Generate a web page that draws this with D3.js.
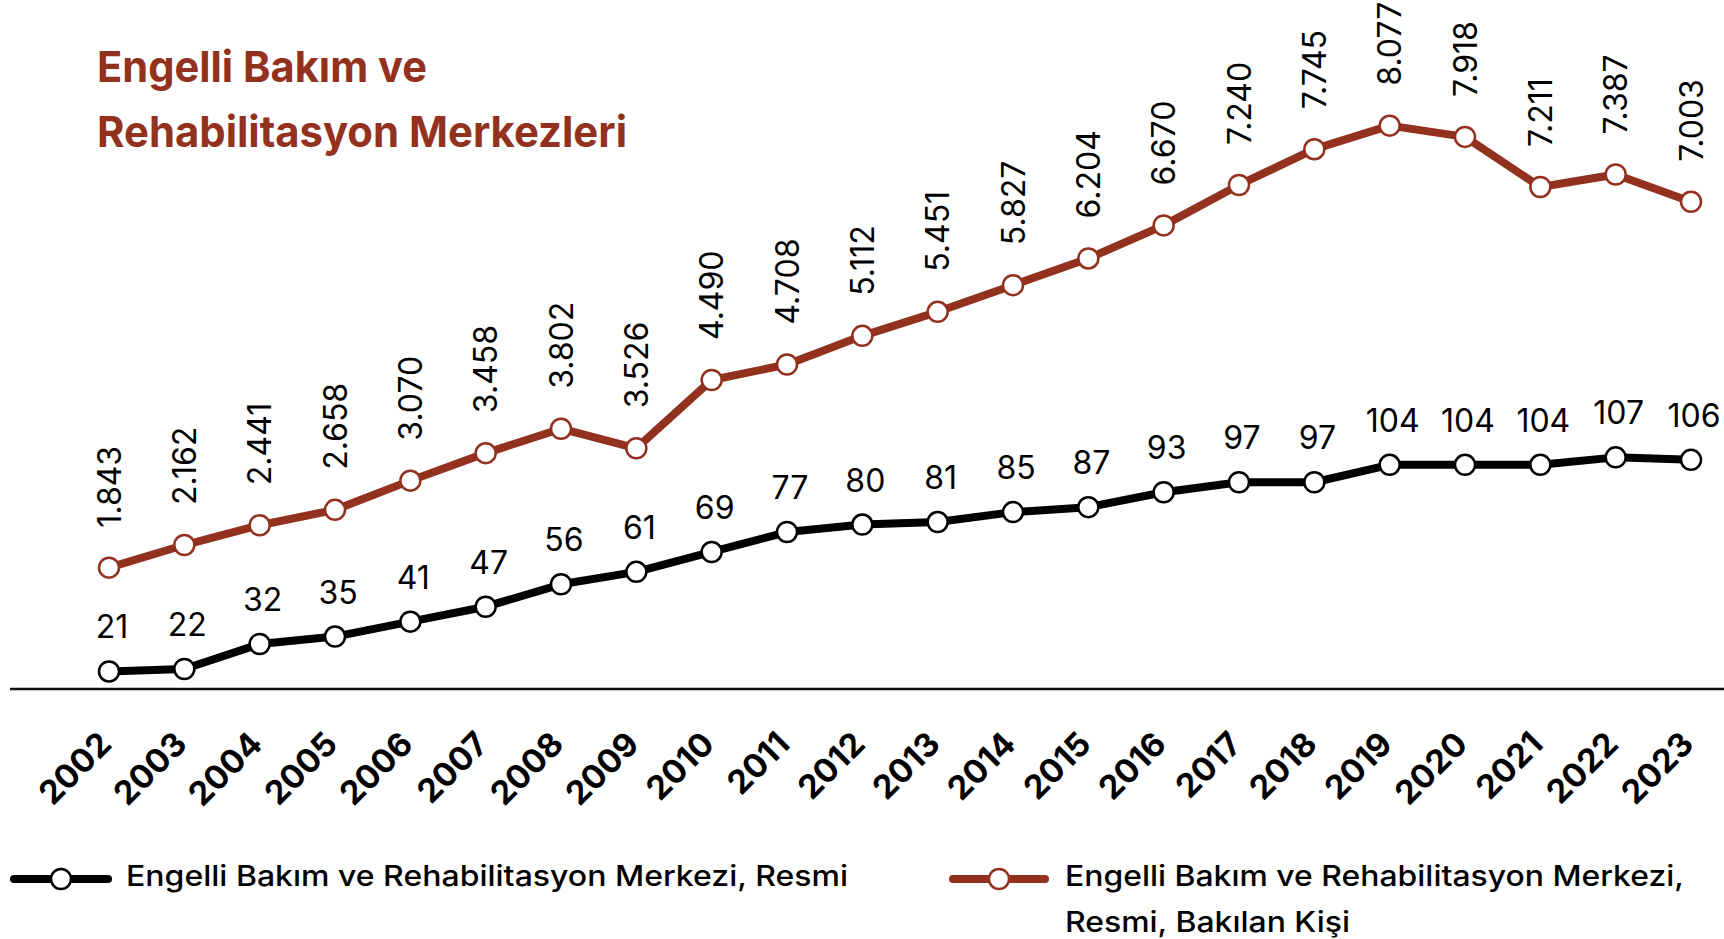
<!DOCTYPE html>
<html>
<head>
<meta charset="utf-8">
<script src="https://cdn.jsdelivr.net/npm/d3@7"></script>
<style>
  html, body { margin: 0; padding: 0; background: #fff; }
  svg { display: block; font-family: Inter, 'Noto Sans', sans-serif; }
</style>
</head>
<body>
<svg id="chart" width="1724" height="939"></svg>
<script>
// data
const years = [2002, 2003, 2004, 2005, 2006, 2007, 2008, 2009, 2010, 2011, 2012,
  2013, 2014, 2015, 2016, 2017, 2018, 2019, 2020, 2021, 2022, 2023];
const centers = [21, 22, 32, 35, 41, 47, 56, 61, 69, 77, 80, 81, 85, 87, 93, 97, 97, 104, 104, 104, 107, 106];
const people = [1843, 2162, 2441, 2658, 3070, 3458, 3802, 3526, 4490, 4708, 5112, 5451,
  5827, 6204, 6670, 7240, 7745, 8077, 7918, 7211, 7387, 7003];
const titleLines = ['Engelli Bakım ve', 'Rehabilitasyon Merkezleri'];
const centersLabel = 'Engelli Bakım ve Rehabilitasyon Merkezi, Resmi';
const peopleLabel = ['Engelli Bakım ve Rehabilitasyon Merkezi,', 'Resmi,  Bakılan Kişi'];

const RED = '#93311f';
const BLACK = '#000';

const svg = d3.select('#chart');
const fmt = (v) => d3.format(',')(v).replace(/,/g, '.');

// scales
const x = d3.scalePoint().domain(years).range([109, 1691]);
const yCenters = d3.scaleLinear().domain([0, 120]).range([723.7, 425]);
const yPeople = d3.scaleLinear().domain([0, 9000]).range([698.3, 60.2]);

// title
svg
  .append('g')
  .selectAll('text')
  .data(titleLines)
  .join('text')
  .attr('x', 97)
  .attr('y', (d, i) => 82 + i * 65)
  .attr('fill', RED)
  .attr('font-size', 43)
  .attr('font-weight', 700)
  .attr('textLength', (d, i) => (i === 0 ? 330 : 530))
  .attr('lengthAdjust', 'spacingAndGlyphs')
  .text((d) => d);

// x axis
svg
  .append('line')
  .attr('x1', 10)
  .attr('x2', 1724)
  .attr('y1', 689)
  .attr('y2', 689)
  .attr('stroke', '#111')
  .attr('stroke-width', 2.5);

const xAxis = svg
  .append('g')
  .attr('transform', 'translate(0,689)')
  .call(d3.axisBottom(x).tickSize(0).tickFormat(d3.format('d')));
xAxis.select('.domain').remove();
xAxis
  .selectAll('text')
  .attr('font-family', 'Inter, sans-serif')
  .attr('font-size', 33)
  .attr('font-weight', 700)
  .attr('fill', '#000')
  .attr('text-anchor', 'end')
  .attr('x', 0)
  .attr('y', 0)
  .attr('dy', 0)
  .attr('transform', 'translate(4,57) rotate(-45)');

// a series = line + circles + labels
function drawSeries({ values, y, color, rotated, offset }) {
  const pts = years.map((yr, i) => ({ yr, v: values[i] }));
  svg
    .append('path')
    .datum(pts)
    .attr('fill', 'none')
    .attr('stroke', color)
    .attr('stroke-width', 8)
    .attr('stroke-linejoin', 'round')
    .attr('d', d3.line().x((d) => x(d.yr)).y((d) => y(d.v)));

  svg
    .append('g')
    .selectAll('circle')
    .data(pts)
    .join('circle')
    .attr('cx', (d) => x(d.yr))
    .attr('cy', (d) => y(d.v))
    .attr('r', 10)
    .attr('fill', '#fff')
    .attr('stroke', color)
    .attr('stroke-width', 2.5);

  const labels = svg
    .append('g')
    .selectAll('text')
    .data(pts)
    .join('text')
    .attr('font-size', 32)
    .attr('fill', '#000')
    .text((d) => fmt(d.v));

  if (rotated) {
    labels
      .attr('text-anchor', 'start')
      .attr('dy', '0.36em')
      .attr('transform', (d) => `translate(${x(d.yr)},${y(d.v) - offset}) rotate(-90)`);
  } else {
    labels
      .attr('text-anchor', 'middle')
      .attr('x', (d) => x(d.yr) + 3)
      .attr('y', (d) => y(d.v) - offset);
  }
}

drawSeries({ values: people, y: yPeople, color: RED, rotated: true, offset: 40 });
drawSeries({ values: centers, y: yCenters, color: BLACK, rotated: false, offset: 33 });

// legend
function legendKey(x0, x1, cy, color) {
  svg
    .append('line')
    .attr('x1', x0)
    .attr('x2', x1)
    .attr('y1', cy)
    .attr('y2', cy)
    .attr('stroke', color)
    .attr('stroke-width', 8)
    .attr('stroke-linecap', 'round');
  svg
    .append('circle')
    .attr('cx', (x0 + x1) / 2)
    .attr('cy', cy)
    .attr('r', 10)
    .attr('fill', '#fff')
    .attr('stroke', color)
    .attr('stroke-width', 2.5);
}

legendKey(14, 108, 879, BLACK);
svg
  .append('text')
  .attr('x', 126)
  .attr('y', 886)
  .attr('font-size', 29)
  .attr('font-weight', 500)
  .attr('textLength', 722)
  .attr('lengthAdjust', 'spacingAndGlyphs')
  .text(centersLabel);

legendKey(953, 1045, 879, RED);
svg
  .append('g')
  .selectAll('text')
  .data(peopleLabel)
  .join('text')
  .attr('x', 1065)
  .attr('y', (d, i) => 886 + i * 46)
  .attr('font-size', 29)
  .attr('font-weight', 500)
  .attr('textLength', (d, i) => (i === 0 ? 619 : 285))
  .attr('lengthAdjust', 'spacingAndGlyphs')
  .text((d) => d);
</script>
</body>
</html>
